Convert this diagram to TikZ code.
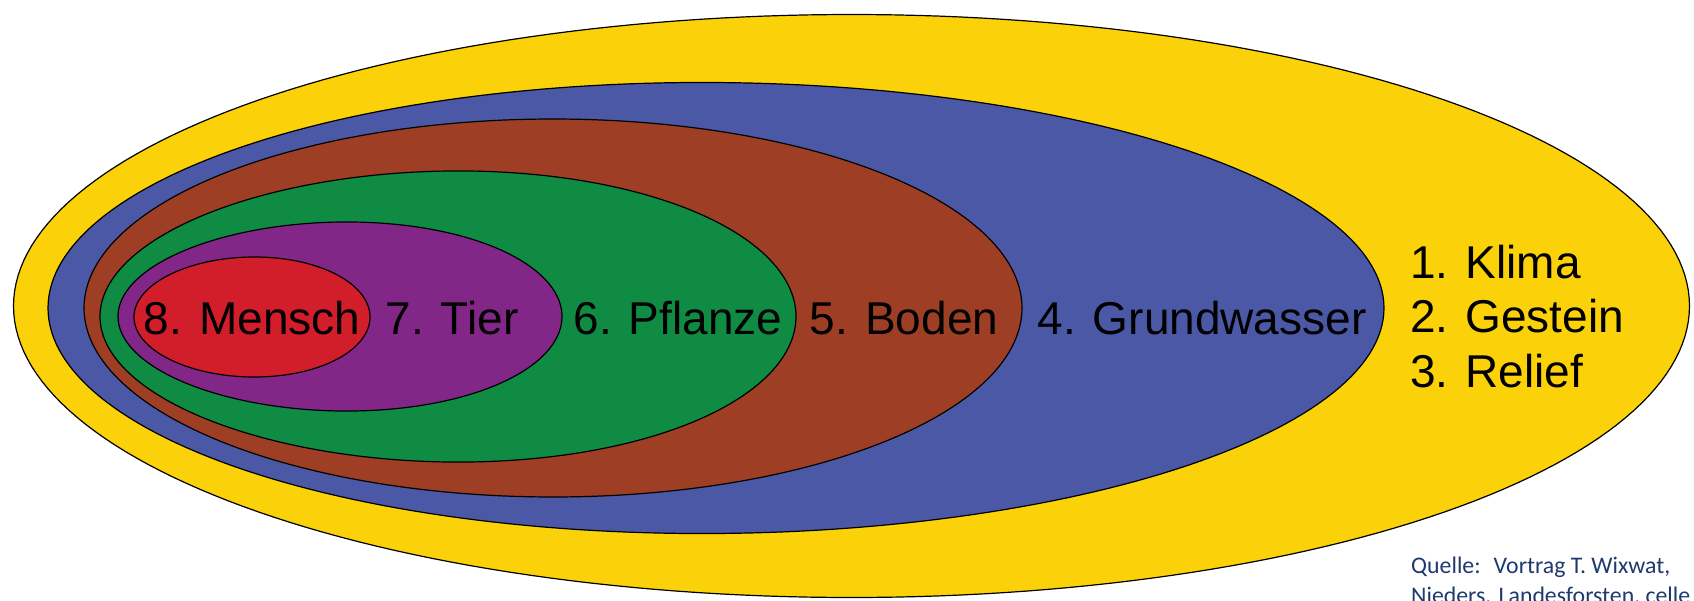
\documentclass[tikz,border=0pt]{standalone}
\usepackage{fontspec}
\setmainfont{Liberation Sans}
\newfontfamily\srcfont{Carlito}
\definecolor{cYellow}{HTML}{FBD20A}
\definecolor{cBlue}{HTML}{4A58A6}
\definecolor{cBrown}{HTML}{9E3E24}
\definecolor{cGreen}{HTML}{108B44}
\definecolor{cPurple}{HTML}{822687}
\definecolor{cRed}{HTML}{D21E2A}
\definecolor{cSrc}{HTML}{1F3A6E}
% cx, cy, rx, ry, k (egg factor), colour
\newcommand\eggshape[6]{%
  \filldraw[eggline, fill=#6]
    plot[variable=\t, domain=0:360, samples=241]
      ({#1+#3*cos(\t)}, {#2+#4*sin(\t)*(1+#5*cos(\t))}) -- cycle;}
\begin{document}
\begin{tikzpicture}[x=1pt, y=-1pt,
  eggline/.style={draw=black, line width=1.2pt, line join=round},
  lbl/.style={inner sep=0pt, font=\fontsize{46}{54}\selectfont, text=black},
  src/.style={inner sep=0pt, font=\srcfont\fontsize{23.8}{28}\selectfont, text=cSrc}]
\useasboundingbox (0,0) rectangle (1694,600);
\clip (0,0) rectangle (1694,600);
\fill[white] (0,0) rectangle (1694,600);

\eggshape{851.5}{306}{838}{291.5}{0.0}{cYellow}
\eggshape{716}{308}{668}{225.5}{-0.02}{cBlue}
\eggshape{553}{308}{469}{189}{0.0}{cBrown}
\eggshape{448}{316.5}{348}{145.5}{0.03}{cGreen}
\eggshape{340}{316.5}{222}{94.5}{0.03}{cPurple}
\eggshape{252}{317}{118}{60}{0.02}{cRed}

\node[lbl, anchor=base] (mensch)  at (252,334)  {8. Mensch};
\node[lbl, anchor=base] (tier)    at (452,334)  {7. Tier};
\node[lbl, anchor=base] (pflanze) at (678,334)  {6. Pflanze};
\node[lbl, anchor=base] (boden)   at (904,334)  {5. Boden};
\node[lbl, anchor=base] (grund)   at (1202,334) {4. Grundwasser};
\node[lbl, anchor=base west] (klima)   at (1410,278) {1. Klima};
\node[lbl, anchor=base west] (gestein) at (1410,332) {2. Gestein};
\node[lbl, anchor=base west] (relief)  at (1410,387) {3. Relief};

\node[src, anchor=base west] (quelle1) at (1411,573) {Quelle:\hspace{13pt}Vortrag T. Wixwat,};
\node[src, anchor=base west] (quelle2) at (1411,603) {Nieders. Landesforsten, celle};
\end{tikzpicture}
\end{document}
